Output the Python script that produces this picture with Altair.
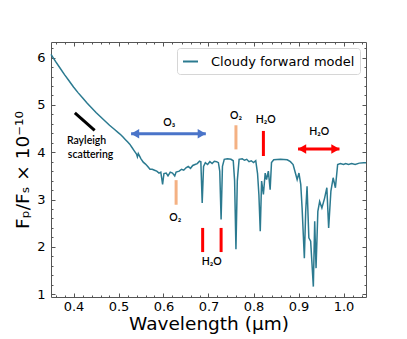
import altair as alt
import pandas as pd

# ---- spectrum ----
wavelength = [0.350, 0.360, 0.370, 0.380, 0.390, 0.400, 0.410, 0.420, 0.430, 0.440,
              0.450, 0.460, 0.470, 0.480, 0.490, 0.500, 0.505, 0.510, 0.515, 0.520,
              0.525, 0.530, 0.535, 0.540, 0.542, 0.544, 0.550, 0.555, 0.560, 0.565,
              0.570, 0.575, 0.580, 0.585, 0.590, 0.594, 0.598, 0.601, 0.606, 0.610,
              0.615, 0.620, 0.625, 0.628, 0.635, 0.640, 0.645, 0.650, 0.655, 0.660,
              0.665, 0.670, 0.675, 0.680, 0.683, 0.686, 0.689, 0.693, 0.698, 0.703,
              0.708, 0.713, 0.718, 0.722, 0.725, 0.728, 0.731, 0.735, 0.742, 0.750,
              0.755, 0.758, 0.761, 0.764, 0.768, 0.775, 0.780, 0.785, 0.790, 0.795,
              0.800, 0.805, 0.809, 0.812, 0.815, 0.818, 0.822, 0.826, 0.829, 0.833,
              0.837, 0.840, 0.845, 0.860, 0.875, 0.882, 0.888, 0.894, 0.897, 0.901,
              0.905, 0.908, 0.913, 0.916, 0.919, 0.923, 0.927, 0.933, 0.936, 0.939,
              0.943, 0.947, 0.952, 0.958, 0.963, 0.967, 0.972, 0.977, 0.982, 0.987,
              0.993, 1.000, 1.005, 1.011, 1.018, 1.026, 1.035, 1.045, 1.050]
flux = [6.07, 5.92, 5.78, 5.64, 5.51, 5.38, 5.26, 5.15, 5.04, 4.94,
        4.84, 4.75, 4.66, 4.57, 4.49, 4.41, 4.37, 4.32, 4.27, 4.22,
        4.17, 4.10, 4.03, 3.96, 3.90, 3.97, 3.86, 3.79, 3.75, 3.70,
        3.64, 3.64, 3.62, 3.60, 3.56, 3.58, 3.32, 3.55, 3.56, 3.50,
        3.58, 3.56, 3.50, 3.58, 3.60, 3.64, 3.62, 3.67, 3.70, 3.66,
        3.72, 3.74, 3.76, 3.81, 3.80, 2.93, 3.70, 3.78, 3.74, 3.80,
        3.76, 3.81, 3.80, 3.78, 3.60, 2.58, 3.70, 3.85, 3.86, 3.85,
        3.82, 3.40, 1.95, 3.40, 3.85, 3.86, 3.83, 3.85, 3.80, 3.82,
        3.78, 3.82, 3.55, 3.10, 2.33, 3.39, 3.11, 3.56, 3.42, 3.60,
        3.21, 3.78, 3.84, 3.85, 3.84, 3.80, 3.74, 3.53, 3.42, 3.56,
        3.32, 2.82, 1.76, 2.75, 3.28, 2.19, 2.12, 1.16, 2.54, 1.55,
        2.75, 2.96, 2.82, 3.03, 3.25, 2.40, 3.18, 3.46, 3.25, 3.74,
        3.76, 3.74, 3.76, 3.74, 3.76, 3.74, 3.77, 3.78, 3.78]
series_name = "Cloudy forward model"

# ---- annotations ----
label_text = ["Rayleigh", "scattering", "O₃", "O₂", "O₂", "H₂O", "H₂O", "H₂O"]
label_x = [0.429, 0.438, 0.613, 0.626, 0.761, 0.827, 0.946, 0.707]
label_y = [4.24, 3.94, 4.61, 2.61, 4.76, 4.69, 4.43, 1.68]

bar_x = [0.628, 0.761, 0.687, 0.728, 0.822]
bar_lo = [2.89, 4.06, 1.89, 1.89, 3.92]
bar_hi = [3.41, 4.57, 2.40, 2.40, 4.45]
bar_kind = ["O2", "O2", "H2O", "H2O", "H2O"]

rayleigh_x = [0.403, 0.447]
rayleigh_y = [4.83, 4.46]

arrow_kind = ["O3", "H2O"]
arrow_x1 = [0.528, 0.899]
arrow_x2 = [0.694, 0.991]
arrow_y = [4.39, 4.07]

x_major = [0.4, 0.5, 0.6, 0.7, 0.8, 0.9, 1.0]
x_minor = [round(0.36 + 0.02 * i, 2) for i in range(35)]
y_major = [1, 2, 3, 4, 5, 6]
y_minor = [round(1.0 + 0.2 * i, 1) for i in range(27)]

LINE = "#2b7a90"
BLUE = "#4a74c9"
RED = "#ff0000"
ORANGE = "#f4b183"
AX = "#555555"

spec = pd.DataFrame({"wl": wavelength, "flux": flux, "series": series_name})
labels = pd.DataFrame({"t": label_text, "x": label_x, "y": label_y})
bars = pd.DataFrame({"x": bar_x, "lo": bar_lo, "hi": bar_hi, "k": bar_kind})
ray = pd.DataFrame({"x": [rayleigh_x[0]], "x2": [rayleigh_x[1]],
                    "y": [rayleigh_y[0]], "y2": [rayleigh_y[1]]})
arrows = pd.DataFrame({"k": arrow_kind, "x1": arrow_x1, "x2": arrow_x2, "y": arrow_y})

xs = alt.Scale(domain=[0.35, 1.05], nice=False, zero=False)
ys = alt.Scale(domain=[0.94, 6.33], nice=False, zero=False)

def ax(orient, values, size, labels_on, title=None, fmt=None):
    kw = dict(orient=orient, values=values, tickSize=size, offset=-size,
              domain=False, grid=False, labels=labels_on, tickColor=AX,
              tickWidth=1, title=title)
    if labels_on:
        kw.update(labelFontSize=13, labelColor="black", labelFont="DejaVu Sans",
                  labelPadding=3 if orient == "bottom" else 6,
                  titleFontSize=18.5, titleFont="DejaVu Sans",
                  titleFontWeight="normal", titleColor="black",
                  titlePadding=1 if orient == "bottom" else 4)
        if fmt:
            kw["format"] = fmt
    return alt.Axis(**kw)

base = alt.Chart(spec)
line = base.mark_line(strokeWidth=1.5).encode(
    x=alt.X("wl:Q", scale=xs, axis=ax("bottom", x_major, 4, True, "Wavelength (μm)", ".1f")),
    y=alt.Y("flux:Q", scale=ys, axis=ax("left", y_major, 4, True, "Fₚ/Fₛ × 10⁻¹⁰", "d")),
    color=alt.Color("series:N", scale=alt.Scale(domain=[series_name], range=[LINE]),
                    legend=alt.Legend(title=None, orient="none", legendX=126, legendY=6,
                                      symbolType="stroke", symbolSize=225,
                                      symbolStrokeWidth=2, labelFontSize=13,
                                      labelFont="DejaVu Sans", labelColor="black",
                                      labelOffset=12, padding=5, cornerRadius=3,
                                      strokeColor="#d6d6d6", fillColor="white")),
)
minor_bl = base.mark_point(opacity=0).encode(
    x=alt.X("wl:Q", scale=xs, axis=ax("bottom", x_minor, 2, False)),
    y=alt.Y("flux:Q", scale=ys, axis=ax("left", y_minor, 2, False)),
)
major_tr = base.mark_point(opacity=0).encode(
    x=alt.X("wl:Q", scale=xs, axis=ax("top", x_major, 4, False)),
    y=alt.Y("flux:Q", scale=ys, axis=ax("right", y_major, 4, False)),
)
minor_tr = base.mark_point(opacity=0).encode(
    x=alt.X("wl:Q", scale=xs, axis=ax("top", x_minor, 2, False)),
    y=alt.Y("flux:Q", scale=ys, axis=ax("right", y_minor, 2, False)),
)

bar_layer = alt.Chart(bars).mark_rule(strokeWidth=3).encode(
    x=alt.X("x:Q", scale=xs, axis=None),
    y=alt.Y("lo:Q", scale=ys, axis=None),
    y2="hi:Q",
    color=alt.Color("k:N", scale=alt.Scale(domain=["O2", "H2O"], range=[ORANGE, RED]), legend=None),
)
ray_layer = alt.Chart(ray).mark_rule(strokeWidth=3, color="black").encode(
    x=alt.X("x:Q", scale=xs, axis=None), x2="x2:Q",
    y=alt.Y("y:Q", scale=ys, axis=None), y2="y2:Q")

acol = alt.Color("k:N", scale=alt.Scale(domain=["O3", "H2O"], range=[BLUE, RED]), legend=None)
arrow_shaft = alt.Chart(arrows).mark_rule(strokeWidth=3).encode(
    x=alt.X("x1:Q", scale=xs, axis=None), x2="x2:Q",
    y=alt.Y("y:Q", scale=ys, axis=None), color=acol)
head_l = alt.Chart(arrows).mark_point(shape="triangle-left", filled=True, size=90,
                                      opacity=1, xOffset=4).encode(
    x=alt.X("x1:Q", scale=xs, axis=None), y=alt.Y("y:Q", scale=ys, axis=None), color=acol)
head_r = alt.Chart(arrows).mark_point(shape="triangle-right", filled=True, size=90,
                                      opacity=1, xOffset=-4).encode(
    x=alt.X("x2:Q", scale=xs, axis=None), y=alt.Y("y:Q", scale=ys, axis=None), color=acol)

text_layer = alt.Chart(labels).mark_text(font="Lato", fontSize=10.5, fontWeight=600,
                                         color="black", align="center",
                                         baseline="middle").encode(
    x=alt.X("x:Q", scale=xs, axis=None), y=alt.Y("y:Q", scale=ys, axis=None), text="t:N")

chart = alt.layer(
    line, minor_bl, major_tr, minor_tr, bar_layer, ray_layer,
    arrow_shaft, head_l, head_r, text_layer
).resolve_axis(x="independent", y="independent").resolve_scale(color="independent").properties(
    width=315, height=255,
    padding={"left": 5, "top": 33, "right": 5, "bottom": 5},
).configure_view(stroke=AX, strokeWidth=1)

chart.save("out.html", embed_options={"renderer": "svg", "actions": False})
